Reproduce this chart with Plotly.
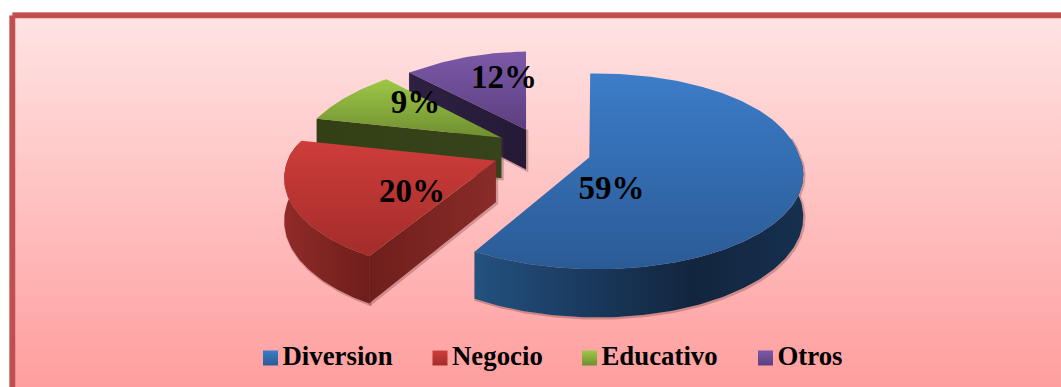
import math
import plotly.graph_objects as go

# Chart data
categories = ["Diversion", "Negocio", "Educativo", "Otros"]
values = [59, 20, 9, 12]
value_labels = ["59%", "20%", "9%", "12%"]

# Pie geometry: a tilted disc, in page pixels
CX, CY = 541, 152
RX, RY = 211, 94.3
PERSP = 0.142
SKEW = 14
DEPTH = 41
EXPLODE = 0.23
ROTATION = -2

# Slice styling
top_colors = [("#3C7CC9", "#2A5B95"), ("#CE3D3A", "#A32C2A"),
              ("#9DC847", "#6F8E30"), ("#7C59A8", "#5C3F80")]
arc_colors = [["#24517F", "#1A3A5F", "#12253E", "#16304F"], ["#902B28", "#6E1E1C"],
              ["#333F15", "#333F15"], ["#2B1E3F", "#241A35"]]
cut_colors = [["#1E3A5A", "#1E3A5A"], ["#6E1F1C", "#8A2B28"],
              ["#333F15", "#37431A"], ["#2E2042", "#241A35"]]
nudges = [(1, 0), (0, 0), (1, -4), (1, -3)]
width_factors = [0.99, 0.975, 0.96, 0.97]
label_offsets = [(22, 33), (-84, 33), (-86, -33), (-22, -50)]
swatch_x = [270.5, 440, 589.5, 765.5]


def scale(y):
    return 1 / (1 - PERSP * y)


def lean(y):
    # Sideways drift of the far half of the disc, easing off past the far rim
    depth = max(0, -y)
    return SKEW * depth if depth <= 1 else SKEW * (1 - (depth - 1) * 2.5)


def project(x, y, nudge, drop=0):
    s = scale(y)
    sx = CX + RX * x * s + lean(y) + nudge[0]
    sy = CY + RY * y * s + drop * s + nudge[1]
    return sx, sy


def scale_stops(colors):
    n = len(colors) - 1
    return [[i / n, c] for i, c in enumerate(colors)]


def polygon(points, gradient_type, colors):
    xs = [p[0] for p in points] + [points[0][0]]
    ys = [p[1] for p in points] + [points[0][1]]
    gradient = dict(type=gradient_type, colorscale=scale_stops(colors))
    return go.Scatter(x=xs, y=ys, mode="lines", fill="toself", fillgradient=gradient,
                      line=dict(width=0), hoverinfo="skip", showlegend=False)


def soft_edge(points):
    # Faint contour that sits just under a wall
    xs = [p[0] + 1 for p in points] + [points[0][0] + 1]
    ys = [p[1] + 1 for p in points] + [points[0][1] + 1]
    return go.Scatter(x=xs, y=ys, mode="lines", line=dict(color="rgba(90,40,40,0.28)", width=2.5),
                      hoverinfo="skip", showlegend=False)


fig = go.Figure()

# Panel with its vertical wash and frame
panel_x = [12.5, 1090, 1090, 12.5, 12.5]
panel_y = [15.5, 15.5, 420, 420, 15.5]
fig.add_trace(go.Scatter(x=panel_x, y=panel_y, mode="lines", line=dict(color="#DFA09E", width=7),
                         hoverinfo="skip", showlegend=False))
fig.add_trace(go.Scatter(x=panel_x, y=panel_y, mode="lines", fill="toself",
                         fillgradient=dict(type="vertical", start=18, stop=387,
                                           colorscale=[[0, "#FFE3E3"], [1, "#FF9E9E"]]),
                         line=dict(color="#C0504D", width=5.5), hoverinfo="skip", showlegend=False))

# Slice angles, clockwise from twelve o'clock
total = sum(values)
spans = []
acc = ROTATION
for v in values:
    spans.append((acc, acc + 360 * v / total))
    acc += 360 * v / total

label_x, label_y = [], []
layers = {}
for i, (a0, a1) in enumerate(spans):
    mid = math.radians((a0 + a1) / 2)
    ax, ay = EXPLODE * math.sin(mid), -EXPLODE * math.cos(mid)
    nudge = nudges[i]
    wf = width_factors[i]
    steps = max(8, int(a1 - a0))
    angles = [a0 + (a1 - a0) * k / steps for k in range(steps + 1)]
    rim = [(ax + wf * math.sin(math.radians(t)), ay - math.cos(math.radians(t))) for t in angles]
    apex = project(ax, ay, nudge)
    label_x.append(apex[0] + label_offsets[i][0])
    label_y.append(apex[1] + label_offsets[i][1])

    traces = []
    # Outer wall, only the part that faces the viewer
    front = [p for p, t in zip(rim, angles) if 78 <= t <= 282]
    if len(front) > 1:
        wall = [project(x, y, nudge) for x, y in front] + \
               [project(x, y, nudge, DEPTH) for x, y in reversed(front)]
        traces.append(soft_edge(wall))
        traces.append(polygon(wall, "horizontal", arc_colors[i]))
    # Cut face along the slice's leading edge
    cx0, cy0 = rim[0]
    cut = [project(cx0, cy0, nudge), apex, project(ax, ay, nudge, DEPTH), project(cx0, cy0, nudge, DEPTH)]
    traces.append(soft_edge(cut))
    traces.append(polygon(cut, "horizontal", cut_colors[i]))
    # Top face: the gradient's first stop lands on the lower screen edge
    face = [apex] + [project(x, y, nudge) for x, y in rim]
    traces.append(polygon(face, "vertical", list(reversed(top_colors[i]))))
    layers[i] = traces

# Back slices first so the nearer ones overlap them
for i in [3, 2, 1, 0]:
    fig.add_traces(layers[i])

# Percentage labels
fig.add_trace(go.Scatter(x=label_x, y=label_y, mode="text", text=value_labels,
                         textposition="middle center",
                         textfont=dict(family="Liberation Serif", size=33, color="black", weight="bold"),
                         hoverinfo="skip", showlegend=False))

# Legend row
legend_y = 358
for i, name in enumerate(categories):
    fig.add_trace(go.Scatter(x=[swatch_x[i]], y=[legend_y], mode="markers",
                             marker=dict(symbol="square", size=15, color=top_colors[i][0],
                                         gradient=dict(type="vertical", color=top_colors[i][1]),
                                         line=dict(width=0)),
                             hoverinfo="skip", showlegend=False))
    fig.add_trace(go.Scatter(x=[swatch_x[i] + 12], y=[legend_y], mode="text", text=[name],
                             textposition="middle right",
                             textfont=dict(family="Liberation Serif", size=26.8, color="black", weight="bold"),
                             hoverinfo="skip", showlegend=False))

fig.update_layout(
    width=1061, height=387, margin=dict(l=0, r=0, t=0, b=0),
    paper_bgcolor="white", plot_bgcolor="rgba(0,0,0,0)", showlegend=False,
    xaxis=dict(range=[0, 1061], visible=False, fixedrange=True),
    yaxis=dict(range=[387, 0], visible=False, fixedrange=True),
)
fig.write_html("out.html", config=dict(displayModeBar=False))
